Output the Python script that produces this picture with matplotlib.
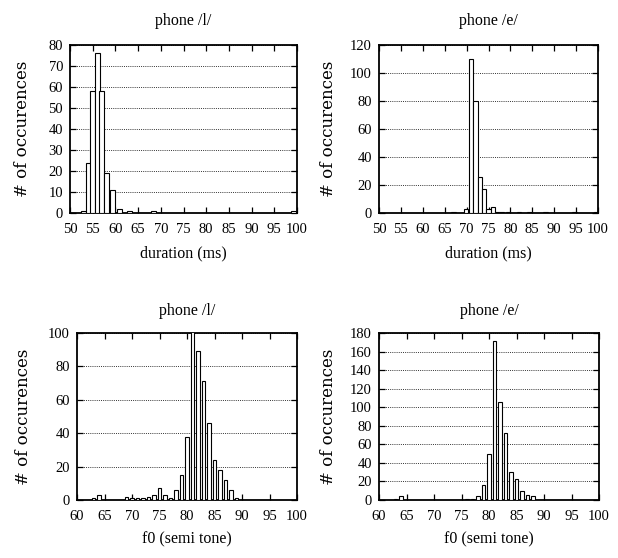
#!/usr/bin/python3
import numpy as np
import matplotlib
matplotlib.use('Agg')
import matplotlib.pyplot as plt

# duration histograms (ms), bin centres and counts
dur_l_x = [52.9, 54, 55, 56, 57, 58, 59.3, 60.8, 63, 68.3, 99.2]
dur_l_n = [1, 24, 58, 76, 58, 19, 11, 2, 1, 1, 1]

dur_e_x = [67, 69.8, 71, 72, 73, 74, 75, 76, 77, 78, 79.5, 82, 84.4, 88, 94.6, 99.6]
dur_e_n = [1, 3, 110, 80, 26, 17, 3, 4, 1, 1, 1, 1, 1, 1, 1, 1]

# f0 histograms (semi tone)
f0_l_x = [63, 64, 69, 70, 71, 72, 73, 74, 75, 76, 77, 78, 79, 80, 81, 82, 83, 84, 85, 86, 87, 88, 89]
f0_l_n = [1, 3, 2, 1, 1, 1, 2, 3, 7, 3, 1, 6, 15, 38, 110, 89, 71, 46, 24, 18, 12, 6, 1]

f0_e_x = [63, 64, 76, 77, 78, 79, 80, 81, 82, 83, 84, 85, 86, 87, 88]
f0_e_n = [1, 4, 1, 1, 4, 16, 50, 171, 106, 72, 30, 23, 10, 5, 4]

W, H = 618, 558
serif = ['Liberation Serif', 'DejaVu Serif']

fig = plt.figure(figsize=(W/100, H/100), dpi=100)

def axes_px(l, r, t, b):
    return fig.add_axes([l/W, 1-b/H, (r-l)/W, (b-t)/H])

def panel(ax, x, n, width, xlim, xticks, ylim, ystep, title, xlabel, title_pad, ylab_x):
    ax.bar(x, n, width=width, color='white', edgecolor='black', linewidth=0.8, zorder=3)
    ax.set_xlim(*xlim)
    ax.set_ylim(0, ylim)
    ax.set_xticks(xticks)
    ax.set_yticks(np.arange(0, ylim + 1, ystep))
    ax.yaxis.grid(True, linestyle=(0, (1, 1.2)), color='#333333', linewidth=0.7, zorder=1)
    ax.tick_params(direction='in', length=4.5, width=0.9, top=True, right=True, labelsize=10.5)
    ax.tick_params(axis='x', pad=7.5)
    ax.tick_params(axis='y', pad=5)
    for lab in ax.get_xticklabels() + ax.get_yticklabels():
        lab.set_family(serif)
    for s in ax.spines.values():
        s.set_linewidth(1.3)
    ax.set_title(title, family=serif, fontsize=11.5, pad=title_pad)
    ax.set_xlabel(xlabel, family=serif, fontsize=11.5)
    ax.xaxis.set_label_coords(0.5, -0.19)
    ax.set_ylabel('# of occurences', family=['DejaVu Serif'], fontsize=12)
    ax.yaxis.set_label_coords(ylab_x, 0.5)

ax1 = axes_px(70, 297, 45, 213)
panel(ax1, dur_l_x, dur_l_n, 1.1, (50, 100), range(50, 101, 5), 80, 10,
      'phone /l/', 'duration (ms)', 14.5, -0.17)

ax2 = axes_px(379, 598, 45, 213)
panel(ax2, dur_e_x, dur_e_n, 1.0, (50, 100), range(50, 101, 5), 120, 20,
      'phone /e/', 'duration (ms)', 14.5, -0.194)

ax3 = axes_px(77, 297, 333, 500)
panel(ax3, f0_l_x, f0_l_n, 0.55, (60, 100), range(60, 101, 5), 100, 20,
      'phone /l/', 'f0 (semi tone)', 13, -0.205)

ax4 = axes_px(379, 599, 333, 500)
panel(ax4, f0_e_x, f0_e_n, 0.55, (60, 100), range(60, 101, 5), 180, 20,
      'phone /e/', 'f0 (semi tone)', 13, -0.19)

plt.savefig('out.png', dpi=100)
